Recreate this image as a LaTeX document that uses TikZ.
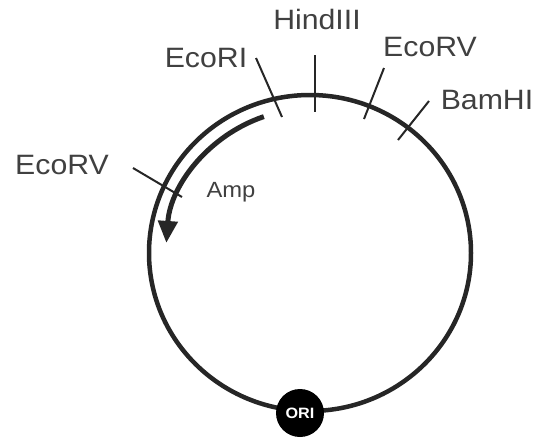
\documentclass[tikz,border=0pt]{standalone}
\usepackage{fontspec}
\setmainfont{Liberation Sans}[FakeStretch=1.08]
\usetikzlibrary{arrows.meta,calc}
\tikzset{
  enzlabel/.style={inner sep=0pt, text=black!75, font=\fontsize{28}{30}\selectfont},
  tick/.style={line width=2pt, black!85},
  plasmid/.style={line width=4.5pt, black!85},
}
\begin{document}
\begin{tikzpicture}[x=1pt,y=-1pt]
\useasboundingbox (0,0) rectangle (538,437);
\coordinate (c) at (310,253);
\draw[plasmid] (c) ellipse [x radius=161, y radius=158];
% Amp arrow
\draw[line width=5pt, black!85, -{Triangle[length=22pt,width=19pt]}]
  ($(c)+(-108.7:144)$) arc[start angle=-108.7, end angle=-176, radius=144];
\node[inner sep=0pt, text=black!75, font=\fontsize{22}{24}\selectfont] (amp) at (231,192) {Amp};
% ticks
\coordinate (hA) at (315,55); \coordinate (hB) at (315,112);
\coordinate (eA) at (256,58); \coordinate (eB) at (282,117);
\coordinate (vA) at (384,68); \coordinate (vB) at (364,119);
\coordinate (bA) at (429,101); \coordinate (bB) at (398,140);
\coordinate (lA) at (133,168); \coordinate (lB) at (182,197);
\draw[tick] (hA) -- (hB);
\draw[tick] (eA) -- (eB);
\draw[tick] (vA) -- (vB);
\draw[tick] (bA) -- (bB);
\draw[tick] (lA) -- (lB);
% labels
\node[enzlabel] (hind) at (317,19) {HindIII};
\node[enzlabel] (ecori) at (206,58) {EcoRI};
\node[enzlabel] (ecorv1) at (430,47) {EcoRV};
\node[enzlabel] (bam) at (487,100) {BamHI};
\node[enzlabel] (ecorv2) at (62,165) {EcoRV};
% ORI
\node[circle, fill=black, minimum size=48pt, inner sep=0pt, text=white,
      font=\fontsize{15}{16}\selectfont\bfseries] (ori) at (300,413) {ORI};
\end{tikzpicture}
\end{document}
